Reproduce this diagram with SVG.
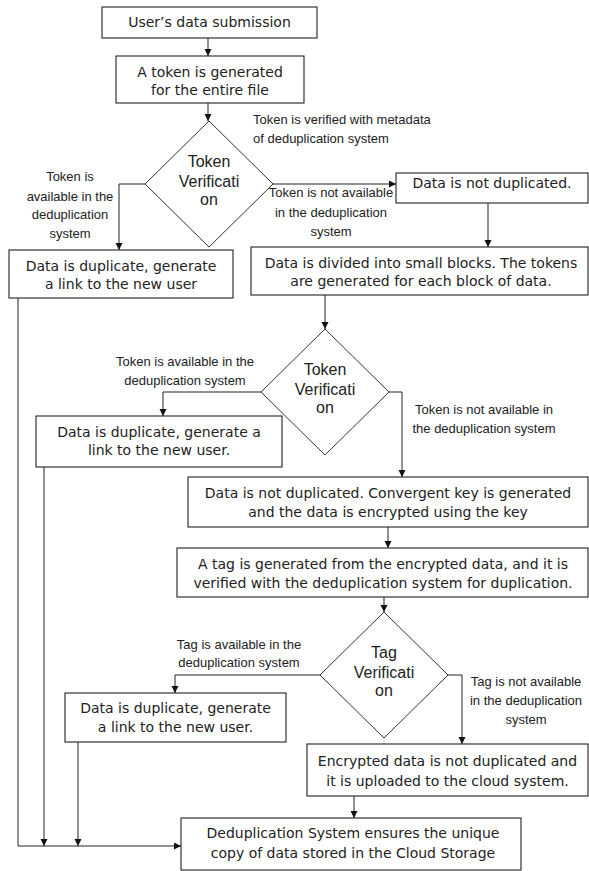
<svg xmlns="http://www.w3.org/2000/svg" width="589" height="871" viewBox="0 0 589 871">
<style>
.box{fill:#fff;stroke:#222;stroke-width:1.1}
.dia{fill:#fff;stroke:#333;stroke-width:1}
.t{font-family:"DejaVu Sans",Verdana,sans-serif;font-size:14px;fill:#222;text-anchor:middle}
.d{font-family:"Liberation Sans",Arial,sans-serif;font-size:16px;fill:#222;text-anchor:middle}
.l{font-family:"Liberation Sans",Arial,sans-serif;font-size:13px;fill:#222;text-anchor:middle}
.c{fill:none;stroke:#222;stroke-width:1;marker-end:url(#ah)}
.n{fill:none;stroke:#222;stroke-width:1}
</style>
<defs>
<marker id="ah" markerUnits="userSpaceOnUse" markerWidth="8" markerHeight="8" refX="7" refY="3.5" orient="auto">
<path d="M0,0 L7,3.5 L0,7 z" fill="#111"/>
</marker>
</defs>
<rect width="589" height="871" fill="#fff"/>
<g id="connectors">
<path class="c" d="M208,38 V56"/>
<path class="c" d="M208,103 V121"/>
<path class="c" d="M145,184 H119 V250"/>
<path class="c" d="M273,184 H396"/>
<path class="c" d="M488,203 V247"/>
<path class="c" d="M325,295 V329"/>
<path class="c" d="M261,392 H163 V416"/>
<path class="c" d="M389,392 H402 V477"/>
<path class="c" d="M388,527 V548"/>
<path class="c" d="M384,597 V612"/>
<path class="c" d="M320,675 H175 V693"/>
<path class="c" d="M448,675 H462 V744"/>
<path class="c" d="M354,796 V818"/>
<path class="c" d="M18,298 V846 H181"/>
<path class="c" d="M44,467 V846"/>
<path class="c" d="M78,742 V846"/>
</g>
<g id="lbl-verify">
<text class="l" style="text-anchor:start" x="253" y="124">Token is verified with metadata</text>
<text class="l" style="text-anchor:start" x="253" y="143">of deduplication system</text>
</g>
<g id="lbl-d1-yes">
<text class="l" x="70" y="181">Token is</text>
<text class="l" x="70" y="201">available in the</text>
<text class="l" x="70" y="219">deduplication</text>
<text class="l" x="70" y="238">system</text>
</g>
<g id="lbl-d1-no">
<text class="l" x="331" y="197">Token is not available</text>
<text class="l" x="331" y="217">in the deduplication</text>
<text class="l" x="331" y="236">system</text>
</g>
<g id="lbl-d2-yes">
<text class="l" x="185" y="366">Token is available in the</text>
<text class="l" x="185" y="385">deduplication system</text>
</g>
<g id="lbl-d2-no">
<text class="l" x="484" y="414">Token is not available in</text>
<text class="l" x="484" y="433">the deduplication system</text>
</g>
<g id="lbl-d3-yes">
<text class="l" x="239" y="649">Tag is available in the</text>
<text class="l" x="239" y="667">deduplication system</text>
</g>
<g id="lbl-d3-no">
<text class="l" x="526" y="686">Tag is not available</text>
<text class="l" x="526" y="705">in the deduplication</text>
<text class="l" x="526" y="724">system</text>
</g>
<g id="n1">
<rect class="box" x="102" y="7" width="215" height="31"/>
<text class="t" x="209.5" y="27">User’s data submission</text>
</g>
<g id="n2">
<rect class="box" x="116" y="56" width="188" height="47"/>
<text class="t" x="210" y="77">A token is generated</text>
<text class="t" x="210" y="95">for the entire file</text>
</g>
<g id="d1">
<polygon class="dia" points="209,121 273,184 209,247 145,184"/>
<text class="d" x="209" y="167">Token</text>
<text class="d" x="209" y="187">Verificati</text>
<text class="d" x="209" y="205">on</text>
</g>
<g id="n3">
<rect class="box" x="9" y="250" width="224" height="48"/>
<text class="t" x="121" y="271">Data is duplicate, generate</text>
<text class="t" x="121" y="289">a link to the new user</text>
</g>
<g id="n4">
<rect class="box" x="396" y="173" width="192" height="30"/>
<text class="t" x="492" y="188">Data is not duplicated.</text>
</g>
<g id="n5">
<rect class="box" x="251" y="247" width="337" height="48"/>
<text class="t" x="421" y="268">Data is divided into small blocks. The tokens</text>
<text class="t" x="421" y="286">are generated for each block of data.</text>
</g>
<g id="d2">
<polygon class="dia" points="325,329 389,392 325,455 261,392"/>
<text class="d" x="325" y="375">Token</text>
<text class="d" x="325" y="395">Verificati</text>
<text class="d" x="325" y="413">on</text>
</g>
<g id="n6">
<rect class="box" x="36" y="416" width="246" height="51"/>
<text class="t" x="159" y="437">Data is duplicate, generate a</text>
<text class="t" x="159" y="455">link to the new user.</text>
</g>
<g id="n7">
<rect class="box" x="188" y="477" width="400" height="50"/>
<text class="t" x="388" y="498">Data is not duplicated. Convergent key is generated</text>
<text class="t" x="388" y="517">and the data is encrypted using the key</text>
</g>
<g id="n8">
<rect class="box" x="177" y="548" width="411" height="49"/>
<text class="t" x="383" y="569">A tag is generated from the encrypted data, and it is</text>
<text class="t" x="383" y="588">verified with the deduplication system for duplication.</text>
</g>
<g id="d3">
<polygon class="dia" points="384,612 448,675 384,738 320,675"/>
<text class="d" x="384" y="658">Tag</text>
<text class="d" x="384" y="678">Verificati</text>
<text class="d" x="384" y="696">on</text>
</g>
<g id="n9">
<rect class="box" x="65" y="693" width="221" height="49"/>
<text class="t" x="175.5" y="713">Data is duplicate, generate</text>
<text class="t" x="175.5" y="732">a link to the new user.</text>
</g>
<g id="n10">
<rect class="box" x="307" y="744" width="281" height="52"/>
<text class="t" x="447.5" y="766">Encrypted data is not duplicated and</text>
<text class="t" x="447.5" y="786">it is uploaded to the cloud system.</text>
</g>
<g id="n11">
<rect class="box" x="181" y="818" width="340" height="52"/>
<text class="t" x="353" y="838">Deduplication System ensures the unique</text>
<text class="t" x="353" y="858">copy of data stored in the Cloud Storage</text>
</g>
</svg>
